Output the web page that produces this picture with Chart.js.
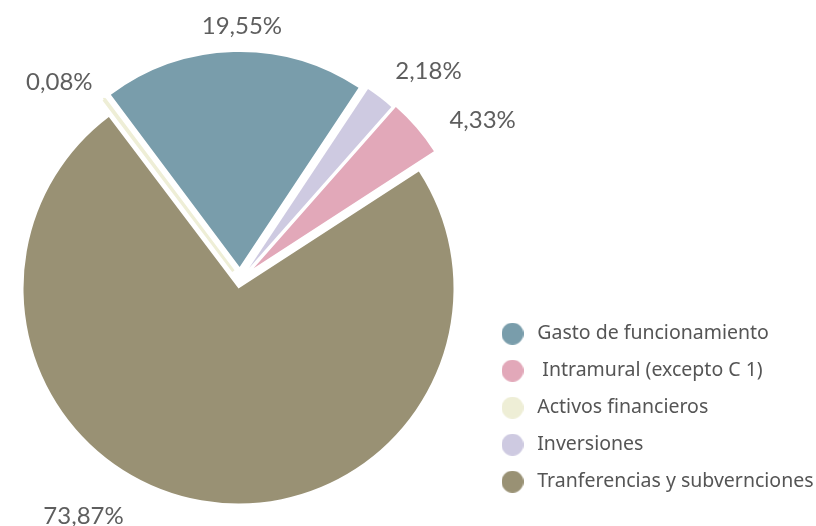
<!DOCTYPE html>
<html>
<head>
<meta charset="utf-8">
<script src="https://cdn.jsdelivr.net/npm/chart.js@4.4.1/dist/chart.umd.min.js"></script>
<style>
  html, body { margin: 0; padding: 0; background: #fff; }
  #wrap { width: 816px; height: 526px; }
</style>
</head>
<body>
<div id="wrap"><canvas id="pie" width="816" height="526"></canvas></div>
<script>
// slices in drawing order (clockwise, starting at the left edge of "Gasto")
const categories = ['Gasto de funcionamiento', 'Inversiones', ' Intramural (excepto C 1)', 'Tranferencias y subvernciones', 'Activos financieros'];
const shares = [19.55, 2.18, 4.33, 73.87, 0.08];
const legendOrder = ['Gasto de funcionamiento', ' Intramural (excepto C 1)', 'Activos financieros', 'Inversiones', 'Tranferencias y subvernciones'];
const colors = ['#799dab', '#cecae1', '#e2a8b9', '#999174', '#eeeed6'];

// pull-out of each slice (px) and label placement tweaks
const explode = [13, 15, 18, 8.6, 11];
const labelTurn = [2, 2.5, 5.5, 21, -3.2];
const labelDist = [242, 260, 264, 264, 247];

const FONT = 'Lato, "Noto Sans", sans-serif';

function dot(color) {
  const c = document.createElement('canvas');
  c.width = 22; c.height = 22;
  const g = c.getContext('2d');
  g.fillStyle = color;
  g.beginPath();
  g.arc(11, 11, 11, 0, Math.PI * 2);
  g.fill();
  return c;
}

// draw arcs pulled out along their middle angle
const explodePlugin = {
  id: 'explode',
  beforeDatasetDraw(chart, args) {
    const ctx = chart.ctx;
    args.meta.data.forEach((arc, i) => {
      const mid = (arc.startAngle + arc.endAngle) / 2;
      ctx.save();
      ctx.translate(Math.cos(mid) * explode[i], Math.sin(mid) * explode[i]);
      arc.draw(ctx);
      ctx.restore();
    });
    return false;
  }
};

const pctLabels = {
  id: 'pctLabels',
  afterDatasetsDraw(chart) {
    const ctx = chart.ctx;
    const meta = chart.getDatasetMeta(0);
    ctx.save();
    ctx.font = '24px ' + FONT;
    ctx.fillStyle = '#5e5e5e';
    ctx.textAlign = 'center';
    ctx.textBaseline = 'middle';
    meta.data.forEach((arc, i) => {
      const a = (arc.startAngle + arc.endAngle) / 2 + labelTurn[i] * Math.PI / 180;
      const dx = Math.cos(a), dy = Math.sin(a);
      const txt = shares[i].toFixed(2).replace('.', ',') + '%';
      const w = ctx.measureText(txt).width;
      const x = arc.x + dx * labelDist[i] + dx * w / 2;
      const y = arc.y + dy * labelDist[i] + dy * 12;
      ctx.fillText(txt, x, y);
    });
    ctx.restore();
  }
};

new Chart(document.getElementById('pie'), {
  type: 'pie',
  data: {
    labels: categories,
    datasets: [{
      data: shares,
      backgroundColor: colors,
      borderColor: colors,
      borderWidth: [0, 0, 0, 0, 3]
    }]
  },
  options: {
    responsive: false,
    animation: false,
    rotation: -36.8,
    radius: 215,
    layout: { padding: { left: -19, right: 0, top: 51, bottom: 17 } },
    plugins: {
      tooltip: { enabled: false },
      legend: {
        position: 'right',
        align: 'end',
        maxWidth: 336,
        labels: {
          usePointStyle: true,
          pointStyleWidth: 30,
          boxHeight: 20,
          padding: 17.5,
          color: '#555',
          font: { family: '"Noto Sans", sans-serif', size: 19.5 },
          generateLabels(chart) {
            const items = Chart.overrides.pie.plugins.legend.labels.generateLabels(chart);
            items.forEach(it => { it.pointStyle = dot(colors[it.index]); });
            return items.sort((a, b) => legendOrder.indexOf(categories[a.index]) - legendOrder.indexOf(categories[b.index]));
          }
        }
      }
    }
  },
  plugins: [explodePlugin, pctLabels]
});
</script>
</body>
</html>
